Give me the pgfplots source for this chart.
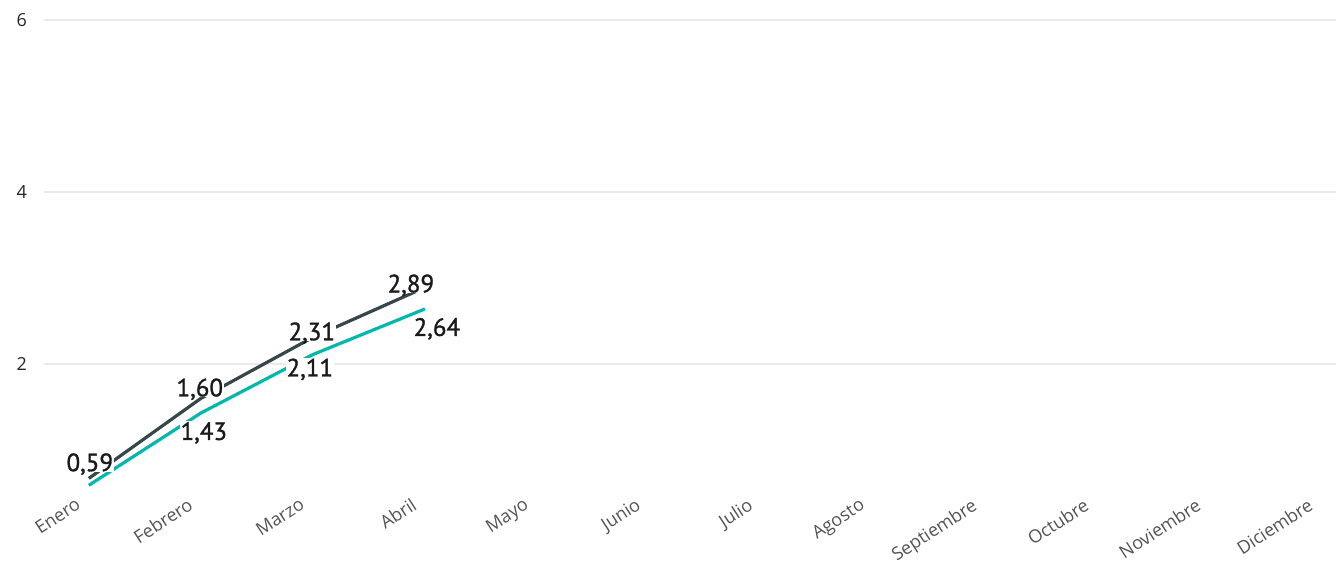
\documentclass[border=0pt]{standalone}
\usepackage{pgfplots}
\usepackage{pgfplotstable}
\pgfplotsset{compat=1.18}
\usepackage{fontspec}
\setmainfont{Open Sans}
\newfontfamily\labelfont[FakeBold=1.2]{PT Sans}
\definecolor{pbteal}{HTML}{01B8AA}
\definecolor{pbdark}{HTML}{374649}
\definecolor{gridgray}{HTML}{EAEAEA}
\definecolor{ticktext}{HTML}{555352}
\definecolor{labtext}{HTML}{1A1A1A}

\pgfplotstableread{
x y lab dx dy
0 0.67 {} 0 0
1 1.60 1,60 -1 11
2 2.31 2,31 -1 6
3 2.89 2,89 -14 4
}\darkdata

\pgfplotstableread{
x y lab dx dy
0 0.59 0,59 1 23
1 1.43 1,43 3 -18
2 2.11 2,11 -3 -13
3 2.64 2,64 12 -18
}\tealdata

\begin{document}
\begin{tikzpicture}
\useasboundingbox (0,0) rectangle (1336pt,562pt);
\begin{axis}[
  at={(44pt,70.7pt)}, anchor=south west,
  scale only axis, width=1292pt, height=471.3pt,
  xmin=-0.4, xmax=11.134, ymin=0.52, ymax=6,
  clip=false,
  axis x line*=bottom, axis y line*=left,
  axis line style={draw=none},
  major tick length=0pt,
  ytick={2,4,6},
  ymajorgrids, grid style={color=gridgray, line width=2pt},
  xtick={0,...,11},
  xticklabels={Enero,Febrero,Marzo,Abril,Mayo,Junio,Julio,Agosto,Septiembre,Octubre,Noviembre,Diciembre},
  xticklabel style={rotate=33, anchor=north east, inner sep=0pt,
    font=\fontsize{18}{20}\selectfont, text=ticktext, xshift=-15pt, yshift=3pt},
  yticklabel style={anchor=east, inner sep=0pt, xshift=-17pt,
    font=\fontsize{18}{20}\selectfont, text=black!85,
    /pgf/number format/assume math mode=true},
  every node near coord/.style={font=\labelfont\fontsize{25}{25}\selectfont,
    text=labtext, fill=white, inner sep=1pt, text depth=0pt, anchor=center,
    xshift=\dx pt, yshift=\dy pt},
]
\addplot[pbdark, line width=3.2pt] table[x=x, y=y]{\darkdata};
\addplot[pbteal, line width=3.2pt] table[x=x, y=y]{\tealdata};
\addplot[draw=none, mark=none, skip coords between index={0}{1},
  nodes near coords, point meta=explicit symbolic,
  visualization depends on={\thisrow{dx}\as\dx},
  visualization depends on={\thisrow{dy}\as\dy}]
  table[x=x, y=y, meta=lab]{\darkdata};
\addplot[draw=none, mark=none,
  nodes near coords, point meta=explicit symbolic,
  visualization depends on={\thisrow{dx}\as\dx},
  visualization depends on={\thisrow{dy}\as\dy}]
  table[x=x, y=y, meta=lab]{\tealdata};
\end{axis}
\end{tikzpicture}
\end{document}
